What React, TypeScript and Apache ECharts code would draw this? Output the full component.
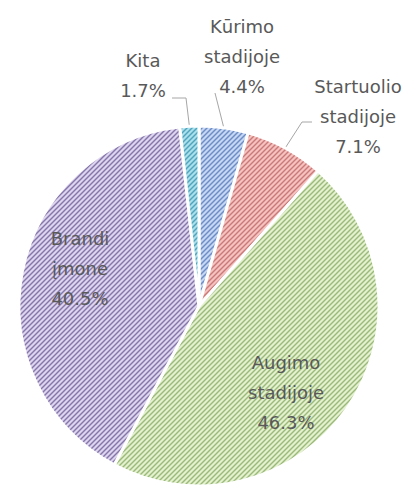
import React, { useEffect, useRef } from "react";
import * as echarts from "echarts";

// ---- data ----
const categories = [
  "Kūrimo\nstadijoje",
  "Startuolio\nstadijoje",
  "Augimo\nstadijoje",
  "Brandi\nįmonė",
  "Kita",
];
const shares = [4.4, 7.1, 46.3, 40.5, 1.7];
const fillColors = ["#c5d7f3", "#f6c2c0", "#e3f1cf", "#ddd5ef", "#aae0ec"];
const hatchColors = ["#6d8cc6", "#c97a78", "#9bb97a", "#8576aa", "#4fa4bb"];
const insideLabel = [false, false, true, true, false];

// ---- layout (label placement, leader line bends) ----
const CX = 199;
const CY = 306;
const R = 180;
const LABEL_POS: { x: number; y: number; line?: number[][] }[] = [
  { x: 242, y: 56, line: [[215, 93]] },
  { x: 358, y: 116, line: [[302, 122], [312, 122]] },
  { x: 286, y: 392 },
  { x: 80, y: 268 },
  { x: 143, y: 75, line: [[186, 98], [172, 98]] },
];

function hatchTile(bg: string, fg: string) {
  const s = 5;
  const c = document.createElement("canvas");
  c.width = s;
  c.height = s;
  const ctx = c.getContext("2d")!;
  ctx.fillStyle = bg;
  ctx.fillRect(0, 0, s, s);
  ctx.strokeStyle = fg;
  ctx.lineWidth = 1.4;
  for (const o of [-s, 0, s]) {
    ctx.beginPath();
    ctx.moveTo(o - 1, s + 1);
    ctx.lineTo(o + s + 1, -1);
    ctx.stroke();
  }
  return c;
}

export default function App() {
  const ref = useRef<HTMLDivElement>(null);
  useEffect(() => {
    document.body.style.margin = "0";
    const chart = echarts.init(ref.current!, null, { renderer: "svg" });
    const data = categories.map((name, i) => ({
      name,
      value: shares[i],
      itemStyle: {
        color: { image: hatchTile(fillColors[i], hatchColors[i]), repeat: "repeat" } as any,
      },
      labelLine: { show: !insideLabel[i] },
    }));
    chart.setOption({
      animation: false,
      backgroundColor: "#ffffff",
      series: [
        {
          type: "pie",
          center: [CX, CY],
          radius: R,
          startAngle: 90,
          clockwise: true,
          avoidLabelOverlap: false,
          data,
          itemStyle: { borderColor: "#ffffff", borderWidth: 3 },
          label: {
            show: true,
            position: "outside",
            formatter: (p: any) => `${p.name}\n${p.value}%`,
            fontFamily: "DejaVu Sans",
            fontSize: 18,
            lineHeight: 30,
            color: "#595959",
          },
          labelLine: {
            length: 10,
            length2: 10,
            lineStyle: { color: "#a6a6a6", width: 1 },
          },
          labelLayout: (params: any) => {
            const p = LABEL_POS[params.dataIndex];
            const out: any = { x: p.x, y: p.y, align: "center", verticalAlign: "middle" };
            if (p.line && params.labelLinePoints) {
              out.labelLinePoints = [params.labelLinePoints[0], ...p.line];
            }
            return out;
          },
          emphasis: { disabled: true },
        },
      ],
    });
    return () => chart.dispose();
  }, []);
  return <div ref={ref} style={{ width: 411, height: 489, overflow: "hidden" }} />;
}
